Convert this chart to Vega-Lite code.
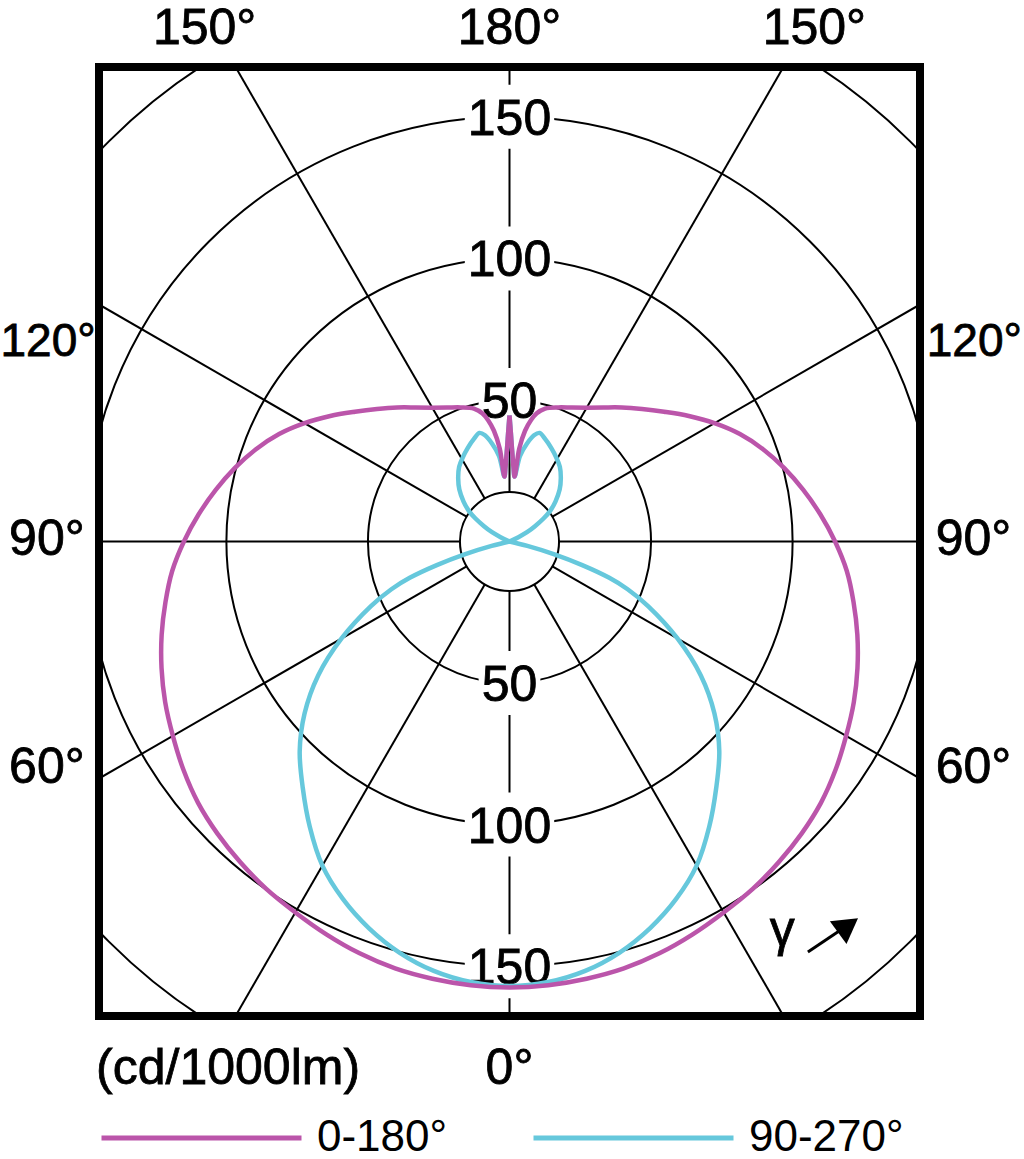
{
  "$schema": "https://vega.github.io/schema/vega-lite/v6.json",
  "width": 821,
  "height": 949,
  "autosize": {"type": "none"},
  "padding": {"left": 99, "top": 67, "right": 104, "bottom": 143},
  "background": "white",
  "config": {
    "view": {"stroke": "black", "strokeWidth": 8},
    "axis": {"disable": true},
    "font": "Liberation Sans",
    "text": {"font": "Liberation Sans", "fontSize": 50, "color": "black", "stroke": "black", "strokeWidth": 0.8}
  },
  "data": {"values": [{}]},
  "datasets": {
    "rings": [{"r": 17.5}, {"r": 50}, {"r": 100}, {"r": 150}, {"r": 200}],
    "spokes": [{"a": 0}, {"a": 30}, {"a": 60}, {"a": 90}, {"a": 120}, {"a": 150}, {"a": 180}, {"a": 210}, {"a": 240}, {"a": 270}, {"a": 300}, {"a": 330}],
    "rlabels": [{"v": 50}, {"v": 100}, {"v": 150}],
    "curves": [
      {"s": "0-180°", "a": -180, "cd": 44.5}, {"s": "0-180°", "a": -179.3, "cd": 38.5}, {"s": "0-180°", "a": -178.5, "cd": 33}, {"s": "0-180°", "a": -177, "cd": 26.5}, {"s": "0-180°", "a": -175.5, "cd": 23}, {"s": "0-180°", "a": -174, "cd": 33}, {"s": "0-180°", "a": -172, "cd": 39.5}, {"s": "0-180°", "a": -170, "cd": 43.5}, {"s": "0-180°", "a": -168, "cd": 46.3}, {"s": "0-180°", "a": -165, "cd": 48.6}, {"s": "0-180°", "a": -160, "cd": 50.4}, {"s": "0-180°", "a": -155, "cd": 52.2}, {"s": "0-180°", "a": -150, "cd": 54.6}, {"s": "0-180°", "a": -145, "cd": 57.8}, {"s": "0-180°", "a": -140, "cd": 61.8}, {"s": "0-180°", "a": -135, "cd": 66.2}, {"s": "0-180°", "a": -130, "cd": 71.3}, {"s": "0-180°", "a": -125, "cd": 77.3}, {"s": "0-180°", "a": -120, "cd": 83.6}, {"s": "0-180°", "a": -115, "cd": 89.8}, {"s": "0-180°", "a": -110, "cd": 95.3}, {"s": "0-180°", "a": -105, "cd": 100.4}, {"s": "0-180°", "a": -100, "cd": 105.3}, {"s": "0-180°", "a": -95, "cd": 110.2}, {"s": "0-180°", "a": -90, "cd": 115}, {"s": "0-180°", "a": -85, "cd": 119.6}, {"s": "0-180°", "a": -80, "cd": 123.4}, {"s": "0-180°", "a": -75, "cd": 127.2}, {"s": "0-180°", "a": -70, "cd": 130.8}, {"s": "0-180°", "a": -65, "cd": 134.2}, {"s": "0-180°", "a": -60, "cd": 137.3}, {"s": "0-180°", "a": -55, "cd": 140.6}, {"s": "0-180°", "a": -50, "cd": 143.6}, {"s": "0-180°", "a": -45, "cd": 145.9}, {"s": "0-180°", "a": -40, "cd": 147.9}, {"s": "0-180°", "a": -35, "cd": 149.8}, {"s": "0-180°", "a": -30, "cd": 151.3}, {"s": "0-180°", "a": -25, "cd": 153.1}, {"s": "0-180°", "a": -20, "cd": 154.8}, {"s": "0-180°", "a": -15, "cd": 156.1}, {"s": "0-180°", "a": -10, "cd": 156.8}, {"s": "0-180°", "a": -5, "cd": 157.3},
      {"s": "0-180°", "a": 0, "cd": 157.5}, {"s": "0-180°", "a": 5, "cd": 157.3}, {"s": "0-180°", "a": 10, "cd": 156.8}, {"s": "0-180°", "a": 15, "cd": 156.1}, {"s": "0-180°", "a": 20, "cd": 154.8}, {"s": "0-180°", "a": 25, "cd": 153.1}, {"s": "0-180°", "a": 30, "cd": 151.3}, {"s": "0-180°", "a": 35, "cd": 149.8}, {"s": "0-180°", "a": 40, "cd": 147.9}, {"s": "0-180°", "a": 45, "cd": 145.9}, {"s": "0-180°", "a": 50, "cd": 143.6}, {"s": "0-180°", "a": 55, "cd": 140.6}, {"s": "0-180°", "a": 60, "cd": 137.3}, {"s": "0-180°", "a": 65, "cd": 134.2}, {"s": "0-180°", "a": 70, "cd": 130.8}, {"s": "0-180°", "a": 75, "cd": 127.2}, {"s": "0-180°", "a": 80, "cd": 123.4}, {"s": "0-180°", "a": 85, "cd": 119.6}, {"s": "0-180°", "a": 90, "cd": 115}, {"s": "0-180°", "a": 95, "cd": 110.2}, {"s": "0-180°", "a": 100, "cd": 105.3}, {"s": "0-180°", "a": 105, "cd": 100.4}, {"s": "0-180°", "a": 110, "cd": 95.3}, {"s": "0-180°", "a": 115, "cd": 89.8}, {"s": "0-180°", "a": 120, "cd": 83.6}, {"s": "0-180°", "a": 125, "cd": 77.3}, {"s": "0-180°", "a": 130, "cd": 71.3}, {"s": "0-180°", "a": 135, "cd": 66.2}, {"s": "0-180°", "a": 140, "cd": 61.8}, {"s": "0-180°", "a": 145, "cd": 57.8}, {"s": "0-180°", "a": 150, "cd": 54.6}, {"s": "0-180°", "a": 155, "cd": 52.2}, {"s": "0-180°", "a": 160, "cd": 50.4}, {"s": "0-180°", "a": 165, "cd": 48.6}, {"s": "0-180°", "a": 168, "cd": 46.3}, {"s": "0-180°", "a": 170, "cd": 43.5}, {"s": "0-180°", "a": 172, "cd": 39.5}, {"s": "0-180°", "a": 174, "cd": 33}, {"s": "0-180°", "a": 175.5, "cd": 23}, {"s": "0-180°", "a": 177, "cd": 26.5}, {"s": "0-180°", "a": 178.5, "cd": 33}, {"s": "0-180°", "a": 179.3, "cd": 38.5}, {"s": "0-180°", "a": 180, "cd": 44.5},
      {"s": "90-270°", "a": -180, "cd": 44.5}, {"s": "90-270°", "a": -179.3, "cd": 38.5}, {"s": "90-270°", "a": -178.5, "cd": 33}, {"s": "90-270°", "a": -177, "cd": 26.5}, {"s": "90-270°", "a": -175.5, "cd": 23}, {"s": "90-270°", "a": -173, "cd": 30.5}, {"s": "90-270°", "a": -170, "cd": 35}, {"s": "90-270°", "a": -167, "cd": 38.5}, {"s": "90-270°", "a": -164.5, "cd": 39.8}, {"s": "90-270°", "a": -161, "cd": 38.4}, {"s": "90-270°", "a": -156, "cd": 36.2}, {"s": "90-270°", "a": -151, "cd": 34}, {"s": "90-270°", "a": -146, "cd": 31.8}, {"s": "90-270°", "a": -141, "cd": 28.8}, {"s": "90-270°", "a": -136, "cd": 25.5}, {"s": "90-270°", "a": -131, "cd": 21.5}, {"s": "90-270°", "a": -127, "cd": 18}, {"s": "90-270°", "a": -124, "cd": 14.5}, {"s": "90-270°", "a": -121, "cd": 10.5}, {"s": "90-270°", "a": -118, "cd": 7}, {"s": "90-270°", "a": -116, "cd": 3.5}, {"s": "90-270°", "a": -114, "cd": 0}, {"s": "90-270°", "a": -90, "cd": 0}, {"s": "90-270°", "a": -78, "cd": 0}, {"s": "90-270°", "a": -76, "cd": 6.5}, {"s": "90-270°", "a": -74, "cd": 16.5}, {"s": "90-270°", "a": -72, "cd": 27}, {"s": "90-270°", "a": -70, "cd": 37.5}, {"s": "90-270°", "a": -68, "cd": 45}, {"s": "90-270°", "a": -65, "cd": 54}, {"s": "90-270°", "a": -60, "cd": 68.5}, {"s": "90-270°", "a": -55, "cd": 82.5}, {"s": "90-270°", "a": -50, "cd": 94.5}, {"s": "90-270°", "a": -45, "cd": 104.8}, {"s": "90-270°", "a": -40, "cd": 113.6}, {"s": "90-270°", "a": -35, "cd": 123}, {"s": "90-270°", "a": -30, "cd": 132.2}, {"s": "90-270°", "a": -25, "cd": 139.3}, {"s": "90-270°", "a": -20, "cd": 145.3}, {"s": "90-270°", "a": -15, "cd": 150.3}, {"s": "90-270°", "a": -10, "cd": 154}, {"s": "90-270°", "a": -5, "cd": 156.2},
      {"s": "90-270°", "a": 0, "cd": 157}, {"s": "90-270°", "a": 5, "cd": 156.2}, {"s": "90-270°", "a": 10, "cd": 154}, {"s": "90-270°", "a": 15, "cd": 150.3}, {"s": "90-270°", "a": 20, "cd": 145.3}, {"s": "90-270°", "a": 25, "cd": 139.3}, {"s": "90-270°", "a": 30, "cd": 132.2}, {"s": "90-270°", "a": 35, "cd": 123}, {"s": "90-270°", "a": 40, "cd": 113.6}, {"s": "90-270°", "a": 45, "cd": 104.8}, {"s": "90-270°", "a": 50, "cd": 94.5}, {"s": "90-270°", "a": 55, "cd": 82.5}, {"s": "90-270°", "a": 60, "cd": 68.5}, {"s": "90-270°", "a": 65, "cd": 54}, {"s": "90-270°", "a": 68, "cd": 45}, {"s": "90-270°", "a": 70, "cd": 37.5}, {"s": "90-270°", "a": 72, "cd": 27}, {"s": "90-270°", "a": 74, "cd": 16.5}, {"s": "90-270°", "a": 76, "cd": 6.5}, {"s": "90-270°", "a": 78, "cd": 0}, {"s": "90-270°", "a": 90, "cd": 0}, {"s": "90-270°", "a": 114, "cd": 0}, {"s": "90-270°", "a": 116, "cd": 3.5}, {"s": "90-270°", "a": 118, "cd": 7}, {"s": "90-270°", "a": 121, "cd": 10.5}, {"s": "90-270°", "a": 124, "cd": 14.5}, {"s": "90-270°", "a": 127, "cd": 18}, {"s": "90-270°", "a": 131, "cd": 21.5}, {"s": "90-270°", "a": 136, "cd": 25.5}, {"s": "90-270°", "a": 141, "cd": 28.8}, {"s": "90-270°", "a": 146, "cd": 31.8}, {"s": "90-270°", "a": 151, "cd": 34}, {"s": "90-270°", "a": 156, "cd": 36.2}, {"s": "90-270°", "a": 161, "cd": 38.4}, {"s": "90-270°", "a": 164.5, "cd": 39.8}, {"s": "90-270°", "a": 167, "cd": 38.5}, {"s": "90-270°", "a": 170, "cd": 35}, {"s": "90-270°", "a": 173, "cd": 30.5}, {"s": "90-270°", "a": 175.5, "cd": 23}, {"s": "90-270°", "a": 177, "cd": 26.5}, {"s": "90-270°", "a": 178.5, "cd": 33}, {"s": "90-270°", "a": 179.3, "cd": 38.5}, {"s": "90-270°", "a": 180, "cd": 44.5}
    ]
  },
  "layer": [
    {
      "data": {"name": "rings"},
      "mark": {"type": "point", "shape": "circle", "filled": false, "stroke": "black", "strokeWidth": 2, "opacity": 1, "clip": true},
      "encoding": {
        "x": {"datum": 0, "type": "quantitative", "scale": {"domain": [-145, 145], "nice": false, "zero": false}, "axis": null},
        "y": {"datum": 0, "type": "quantitative", "scale": {"domain": [-167.6, 167.6], "nice": false, "zero": false}, "axis": null},
        "size": {"field": "r", "type": "quantitative", "scale": {"type": "pow", "exponent": 2, "domain": [0, 200], "range": [0, 1282330]}, "legend": null}
      }
    },
    {
      "data": {"name": "spokes"},
      "transform": [
        {"calculate": "17.5*sin(datum.a*PI/180)", "as": "x1"},
        {"calculate": "-17.5*cos(datum.a*PI/180)", "as": "y1"},
        {"calculate": "260*sin(datum.a*PI/180)", "as": "xe"},
        {"calculate": "-260*cos(datum.a*PI/180)", "as": "ye"}
      ],
      "mark": {"type": "rule", "stroke": "black", "strokeWidth": 2, "clip": true},
      "encoding": {
        "x": {"field": "x1", "type": "quantitative", "scale": {"domain": [-145, 145], "nice": false, "zero": false}},
        "y": {"field": "y1", "type": "quantitative", "scale": {"domain": [-167.6, 167.6], "nice": false, "zero": false}},
        "x2": {"field": "xe"},
        "y2": {"field": "ye"}
      }
    },
    {
      "data": {"name": "rlabels"},
      "transform": [
        {"calculate": "[datum.v, -datum.v]", "as": "ys"},
        {"flatten": ["ys"]},
        {"calculate": "datum.v >= 100 ? 15.8 : 10.9", "as": "hw"},
        {"calculate": "-datum.hw", "as": "xl"},
        {"calculate": "datum.ys - 11.3", "as": "yl"},
        {"calculate": "datum.ys + 11.3", "as": "yh"}
      ],
      "mark": {"type": "rect", "fill": "white", "stroke": null},
      "encoding": {
        "x": {"field": "xl", "type": "quantitative", "scale": {"domain": [-145, 145], "nice": false, "zero": false}},
        "x2": {"field": "hw"},
        "y": {"field": "yl", "type": "quantitative", "scale": {"domain": [-167.6, 167.6], "nice": false, "zero": false}},
        "y2": {"field": "yh"}
      }
    },
    {
      "data": {"name": "rlabels"},
      "transform": [
        {"calculate": "[datum.v, -datum.v]", "as": "ys"},
        {"flatten": ["ys"]}
      ],
      "mark": {"type": "text", "fontSize": 50, "align": "center", "baseline": "middle", "dy": 3},
      "encoding": {
        "x": {"datum": 0, "type": "quantitative", "scale": {"domain": [-145, 145], "nice": false, "zero": false}},
        "y": {"field": "ys", "type": "quantitative", "scale": {"domain": [-167.6, 167.6], "nice": false, "zero": false}},
        "text": {"field": "v", "type": "quantitative"}
      }
    },
    {
      "data": {"name": "curves"},
      "transform": [
        {"filter": "datum.s === '90-270°'"},
        {"calculate": "datum.cd*sin(datum.a*PI/180)", "as": "x"},
        {"calculate": "-datum.cd*cos(datum.a*PI/180)", "as": "y"}
      ],
      "mark": {"type": "line", "strokeWidth": 4.5, "clip": true, "strokeJoin": "round", "interpolate": "catmull-rom"},
      "encoding": {
        "x": {"field": "x", "type": "quantitative", "scale": {"domain": [-145, 145], "nice": false, "zero": false}},
        "y": {"field": "y", "type": "quantitative", "scale": {"domain": [-167.6, 167.6], "nice": false, "zero": false}},
        "order": {"field": "a", "type": "quantitative"},
        "color": {"field": "s", "type": "nominal", "scale": {"domain": ["0-180°", "90-270°"], "range": ["#BB55AA", "#66C8DC"]},
          "legend": {"orient": "bottom", "direction": "horizontal", "title": null, "symbolType": "stroke", "symbolSize": 40000, "symbolStrokeWidth": 5, "labelFont": "Liberation Sans", "labelFontSize": 44, "labelColor": "black", "labelOffset": 13, "columnPadding": 83, "offset": 97, "padding": 0, "clipHeight": 50, "labelLimit": 0}}
      }
    },
    {
      "data": {"name": "curves"},
      "transform": [
        {"filter": "datum.s === '0-180°'"},
        {"calculate": "datum.cd*sin(datum.a*PI/180)", "as": "x"},
        {"calculate": "-datum.cd*cos(datum.a*PI/180)", "as": "y"}
      ],
      "mark": {"type": "line", "strokeWidth": 4.5, "clip": true, "strokeJoin": "round", "interpolate": "catmull-rom"},
      "encoding": {
        "x": {"field": "x", "type": "quantitative", "scale": {"domain": [-145, 145], "nice": false, "zero": false}},
        "y": {"field": "y", "type": "quantitative", "scale": {"domain": [-167.6, 167.6], "nice": false, "zero": false}},
        "order": {"field": "a", "type": "quantitative"},
        "color": {"field": "s", "type": "nominal"}
      }
    },
    {"mark": {"type": "text", "fontSize": 50, "align": "center", "baseline": "middle"}, "encoding": {"x": {"datum": -107.7, "type": "quantitative"}, "y": {"datum": 180.9, "type": "quantitative"}, "text": {"value": "150°"}}},
    {"mark": {"type": "text", "fontSize": 50, "align": "center", "baseline": "middle"}, "encoding": {"x": {"datum": 0, "type": "quantitative"}, "y": {"datum": 180.9, "type": "quantitative"}, "text": {"value": "180°"}}},
    {"mark": {"type": "text", "fontSize": 50, "align": "center", "baseline": "middle"}, "encoding": {"x": {"datum": 107.7, "type": "quantitative"}, "y": {"datum": 180.9, "type": "quantitative"}, "text": {"value": "150°"}}},
    {"mark": {"type": "text", "fontSize": 46, "align": "center", "baseline": "middle"}, "encoding": {"x": {"datum": -163, "type": "quantitative"}, "y": {"datum": 70.5, "type": "quantitative"}, "text": {"value": "120°"}}},
    {"mark": {"type": "text", "fontSize": 46, "align": "center", "baseline": "middle"}, "encoding": {"x": {"datum": 164.2, "type": "quantitative"}, "y": {"datum": 70.5, "type": "quantitative"}, "text": {"value": "120°"}}},
    {"mark": {"type": "text", "fontSize": 50, "align": "center", "baseline": "middle"}, "encoding": {"x": {"datum": -163.4, "type": "quantitative"}, "y": {"datum": 0.5, "type": "quantitative"}, "text": {"value": "90°"}}},
    {"mark": {"type": "text", "fontSize": 50, "align": "center", "baseline": "middle"}, "encoding": {"x": {"datum": 163.9, "type": "quantitative"}, "y": {"datum": 0.5, "type": "quantitative"}, "text": {"value": "90°"}}},
    {"mark": {"type": "text", "fontSize": 50, "align": "center", "baseline": "middle"}, "encoding": {"x": {"datum": -163.4, "type": "quantitative"}, "y": {"datum": -80, "type": "quantitative"}, "text": {"value": "60°"}}},
    {"mark": {"type": "text", "fontSize": 50, "align": "center", "baseline": "middle"}, "encoding": {"x": {"datum": 163.9, "type": "quantitative"}, "y": {"datum": -80, "type": "quantitative"}, "text": {"value": "60°"}}},
    {"mark": {"type": "text", "fontSize": 50, "align": "center", "baseline": "middle"}, "encoding": {"x": {"datum": 0, "type": "quantitative"}, "y": {"datum": -186.4, "type": "quantitative"}, "text": {"value": "0°"}}},
    {"mark": {"type": "text", "fontSize": 50, "align": "center", "baseline": "middle"}, "encoding": {"x": {"datum": -99.4, "type": "quantitative"}, "y": {"datum": -186.4, "type": "quantitative"}, "text": {"value": "(cd/1000lm)"}}},
    {"mark": {"type": "text", "fontSize": 50, "align": "center", "baseline": "middle"}, "encoding": {"x": {"datum": 96.3, "type": "quantitative"}, "y": {"datum": -137.6, "type": "quantitative"}, "text": {"value": "γ"}}},
    {"mark": {"type": "rule", "strokeWidth": 3, "color": "black"}, "encoding": {"x": {"datum": 105.4, "type": "quantitative"}, "y": {"datum": -145, "type": "quantitative"}, "x2": {"datum": 117.5}, "y2": {"datum": -136.9}}},
    {"mark": {"type": "point", "shape": "triangle-up", "filled": true, "color": "black", "size": 800, "angle": 54, "opacity": 1}, "encoding": {"x": {"datum": 119.6, "type": "quantitative"}, "y": {"datum": -135.6, "type": "quantitative"}}}
  ]
}
